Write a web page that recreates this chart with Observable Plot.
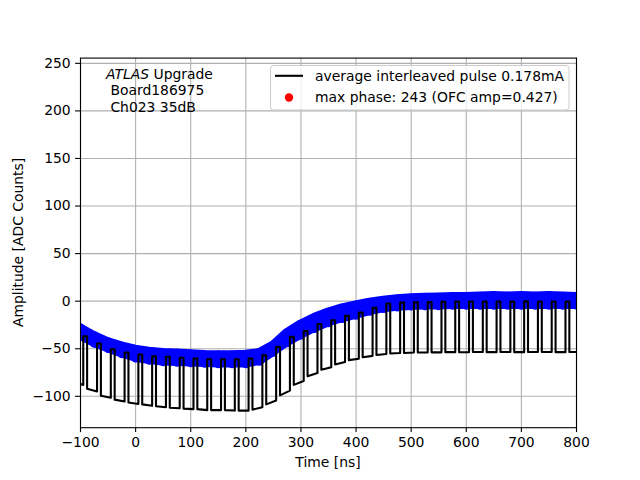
<!DOCTYPE html>
<html><head><meta charset="utf-8">
<script src="https://cdn.jsdelivr.net/npm/d3@7"></script>
<script src="https://cdn.jsdelivr.net/npm/@observablehq/plot@0.6"></script>
<style>
body{margin:0;background:#fff;}
#chart{position:relative;width:640px;height:480px;}
svg text{font-family:"DejaVu Sans",sans-serif;}
</style>
</head><body><div id="chart"></div>
<script>
// ---- data ----
const firstRise = -95;      // ns, first upward step of the interleaved pulse
const period = 25;          // ns between steps
const highDur = 7;          // ns the pulse stays on the upper branch
const preLow = [-87, -88];  // value at x=-100 and at first rise
const highs = [-37, -44.5, -50.5, -54, -56, -58, -58.5, -59.5, -60.3, -61, -61, -61,
  -60.3, -57, -48, -37.5, -31.5, -24, -20, -15.5, -12, -7, -2.5, -1.5,
  -1.2, -1, -0.7, -0.3, -0.3, -0.5, -0.3, -0.5, -0.2, -0.5, -0.4, -0.5];
const lowStart = [-92, -99.5, -103.5, -106.5, -108.5, -110.5, -112, -113, -113.5, -114.5, -114.5, -115,
  -114, -108.5, -99, -88, -79, -72, -66.5, -62, -59, -56.5, -55, -54.5,
  -54, -53.8, -53.6, -53.7, -53.5, -53.6, -53.5, -53.6, -53.5, -53.5, -53.6, -53.5];
const lowEnd = [-95, -101.5, -105.5, -108, -110, -111.5, -112.5, -113.5, -114.5, -114.5, -115, -115,
  -111.5, -104.5, -94, -84, -75.5, -69.5, -64, -60.5, -57.5, -55.5, -54.5, -54,
  -54, -53.8, -53.6, -53.7, -53.5, -53.6, -53.5, -53.6, -53.5, -53.5, -53.6, -53.5];

const phaseX = [-100, -75, -50, -25, 0, 25, 50, 75, 100, 125, 150, 175, 200, 225, 250, 275, 300, 325,
  350, 375, 400, 425, 450, 475, 500, 525, 550, 575, 600, 625, 650, 675, 700, 725, 750, 775, 800];
const phaseTop = [-28, -36, -42.5, -47, -50.5, -52.5, -54, -54.5, -55.2, -56, -56.3, -56.3, -55.8, -54,
  -46, -33, -24, -17, -11.5, -7, -4, -1, 1, 2.5, 3.5, 4, 4.5, 5, 5, 5.5, 6, 5.5, 6, 5.5, 6, 5.5, 5];
const phaseBottom = [-37, -44.5, -50, -55.5, -60, -62.5, -64, -64.5, -65, -65.5, -66, -66, -66, -63.5,
  -54, -44, -36, -29, -23, -18.5, -15, -11, -8, -6.5, -5.5, -5, -5, -4.5, -4.5, -4.5, -4.5, -4.5, -4.5,
  -4.5, -4.5, -4.5, -4.5];

const xTicks = [-100, 0, 100, 200, 300, 400, 500, 600, 700, 800];
const yTicks = [-100, -50, 0, 50, 100, 150, 200, 250];

const legendLabels = ["average interleaved pulse 0.178mA", "max phase: 243 (OFC amp=0.427)"];
const infoLines = [" Board186975", " Ch023 35dB"];

// ---- build tables ----
const pulse = [{x: -100, y: preLow[0]}, {x: firstRise, y: preLow[1]}];
highs.forEach((h, k) => {
  const t = firstRise + period * k;
  pulse.push({x: t, y: h}, {x: t + highDur, y: h}, {x: t + highDur, y: lowStart[k]}, {x: t + period, y: lowEnd[k]});
});
const band = phaseX.map((x, i) => ({x, top: phaseTop[i], bottom: phaseBottom[i]}));
const dots = band.flatMap(d => [{x: d.x, y: d.top}, {x: d.x, y: d.bottom}]);

const fmt = d => d < 0 ? "\u2212" + (-d) : String(d);

const svg = Plot.plot({
  width: 640, height: 480,
  marginLeft: 80, marginRight: 64, marginTop: 57.6, marginBottom: 52.8,
  style: {fontFamily: "DejaVu Sans", fontSize: "13.9px", background: "white", color: "black"},
  x: {domain: [-100, 800], label: null},
  y: {domain: [-133, 255.5], label: null},
  marks: [
    Plot.gridX(xTicks, {stroke: "#b0b0b0", strokeOpacity: 1, strokeWidth: 1.1}),
    Plot.gridY(yTicks, {stroke: "#b0b0b0", strokeOpacity: 1, strokeWidth: 1.1}),
    Plot.areaY(band, {x: "x", y1: "bottom", y2: "top", fill: "#0000ff", stroke: "#0000ff", strokeWidth: 8, strokeLinejoin: "round", clip: true}),
    Plot.dot(dots, {x: "x", y: "y", r: 4.2, fill: "#0000ff", clip: true}),
    Plot.line(pulse, {x: "x", y: "y", stroke: "black", strokeWidth: 2.1, strokeLinejoin: "round", clip: true}),
    Plot.axisX(xTicks, {tickSize: 4.9, tickPadding: 4.9, tickFormat: fmt, label: null, strokeWidth: 1.1}),
    Plot.axisY(yTicks, {tickSize: 4.9, tickPadding: 4.9, tickFormat: fmt, label: null, strokeWidth: 1.1}),
    Plot.frame({stroke: "black", strokeWidth: 1.1})
  ]
});
document.getElementById("chart").appendChild(svg);

const s = d3.select(svg);
const FS = "13.9px";
// axis labels
s.append("text").attr("x", 328).attr("y", 467).attr("text-anchor", "middle")
  .attr("font-size", FS).attr("fill", "black").text("Time [ns]");
s.append("text").attr("transform", "translate(22.5,242.4) rotate(-90)").attr("text-anchor", "middle")
  .attr("font-size", FS).attr("fill", "black").text("Amplitude [ADC Counts]");

// ATLAS label
const t1 = s.append("text").attr("x", 106).attr("y", 78.5).attr("font-size", FS).attr("fill", "black")
  .attr("text-anchor", "start").attr("xml:space", "preserve").style("white-space", "pre");
t1.append("tspan").attr("font-style", "italic").text("ATLAS");
t1.append("tspan").text(" Upgrade");
infoLines.forEach((line, i) => {
  s.append("text").attr("x", 106).attr("y", 95.2 + i * 16.7).attr("font-size", FS).attr("fill", "black")
    .attr("text-anchor", "start").attr("xml:space", "preserve").style("white-space", "pre").text(line);
});

// legend
const lg = s.append("g");
lg.append("rect").attr("x", 270.5).attr("y", 65.5).attr("width", 298.5).attr("height", 44.5).attr("rx", 3)
  .attr("fill", "white").attr("fill-opacity", 0.8).attr("stroke", "#cccccc").attr("stroke-width", 1);
lg.append("line").attr("x1", 275).attr("x2", 303).attr("y1", 75.8).attr("y2", 75.8)
  .attr("stroke", "black").attr("stroke-width", 2.1);
lg.append("circle").attr("cx", 289).attr("cy", 97.5).attr("r", 4.2).attr("fill", "#ff0000");
legendLabels.forEach((lab, i) => {
  lg.append("text").attr("x", 315).attr("y", 80.7 + i * 21.7).attr("font-size", FS).attr("fill", "black")
    .attr("text-anchor", "start").text(lab);
});
</script>
</body></html>
